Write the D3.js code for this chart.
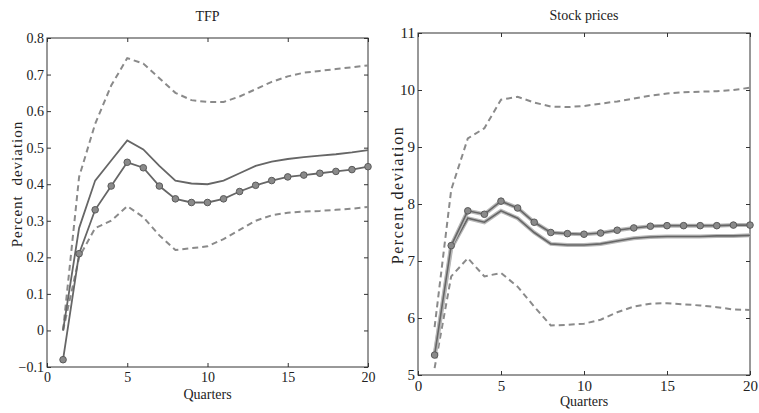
<!DOCTYPE html>
<html><head><meta charset="utf-8">
<script src="https://cdn.jsdelivr.net/npm/d3@7"></script>
<style>
body{margin:0;background:#fff;}
svg text{font-family:"Liberation Serif","DejaVu Serif",serif;fill:#222;}
</style></head>
<body><svg id="c" width="759" height="413"></svg>
<script>
const quarters = d3.range(1,21);
const xTicks = [0,5,10,15,20];

// TFP panel
const tfpTicks = [-0.1,0,0.1,0.2,0.3,0.4,0.5,0.6,0.7,0.8];
const tfpTickLabels = ["\u22120.1","0","0.1","0.2","0.3","0.4","0.5","0.6","0.7","0.8"];
const tfpMarked = [-0.08,0.21,0.33,0.395,0.46,0.445,0.395,0.36,0.35,0.35,0.36,0.38,0.397,0.41,0.42,0.425,0.43,0.435,0.44,0.448];
const tfpSolid  = [0.0,0.28,0.41,0.465,0.52,0.495,0.45,0.41,0.402,0.40,0.41,0.43,0.45,0.462,0.469,0.474,0.478,0.482,0.487,0.493];
const tfpUpper  = [0.0,0.42,0.565,0.67,0.745,0.73,0.69,0.65,0.63,0.625,0.625,0.64,0.66,0.68,0.695,0.705,0.71,0.715,0.72,0.725];
const tfpLower  = [0.0,0.2,0.28,0.30,0.34,0.31,0.26,0.22,0.225,0.23,0.25,0.275,0.30,0.315,0.322,0.325,0.327,0.33,0.333,0.338];

// Stock prices panel
const spTicks = [5,6,7,8,9,10,11];
const spTickLabels = ["5","6","7","8","9","10","11"];
const spMarked = [5.35,7.27,7.88,7.82,8.05,7.93,7.68,7.50,7.48,7.47,7.49,7.54,7.58,7.61,7.62,7.62,7.62,7.62,7.63,7.63];
const spSolid  = [5.32,7.22,7.75,7.68,7.88,7.75,7.50,7.30,7.28,7.28,7.30,7.35,7.40,7.42,7.43,7.43,7.43,7.44,7.44,7.45];
const spUpper  = [5.84,8.25,9.15,9.33,9.83,9.88,9.78,9.71,9.70,9.72,9.76,9.80,9.85,9.90,9.94,9.96,9.97,9.98,10.00,10.04];
const spLower  = [5.12,6.73,7.05,6.73,6.79,6.55,6.20,5.87,5.88,5.90,5.97,6.10,6.20,6.25,6.26,6.24,6.22,6.19,6.15,6.14];

const svg = d3.select("#c");

function panel(o){
  const g = svg.append("g");
  const x = d3.scaleLinear().domain([0,20]).range([o.l,o.r]);
  const y = d3.scaleLinear().domain(o.dom).range([o.b,o.t]);
  const tl = 4;
  g.append("rect").attr("x",o.l).attr("y",o.t).attr("width",o.r-o.l).attr("height",o.b-o.t)
    .attr("fill","none").attr("stroke","#333").attr("stroke-width",1);
  const fmtY = d=>o.labels[o.ticks.indexOf(d)];
  g.append("g").attr("transform",`translate(0,${o.b})`)
    .call(d3.axisBottom(x).tickValues(xTicks).tickSize(-tl).tickPadding(o.xpad).tickFormat(d3.format("d")))
    .call(a=>{a.select(".domain").remove();a.selectAll("text").attr("font-size",o.fs).attr("font-family","Liberation Serif");a.selectAll("line").attr("stroke","#333");});
  g.append("g").attr("transform",`translate(0,${o.t})`)
    .call(d3.axisTop(x).tickValues(xTicks).tickSize(-tl).tickFormat(""))
    .call(a=>{a.select(".domain").remove();a.selectAll("line").attr("stroke","#333");});
  g.append("g").attr("transform",`translate(${o.l},0)`)
    .call(d3.axisLeft(y).tickValues(o.ticks).tickSize(-tl).tickPadding(3).tickFormat(fmtY))
    .call(a=>{a.select(".domain").remove();a.selectAll("text").attr("font-size",o.fs).attr("font-family","Liberation Serif");a.selectAll("line").attr("stroke","#333");});
  g.append("g").attr("transform",`translate(${o.r},0)`)
    .call(d3.axisRight(y).tickValues(o.ticks).tickSize(-tl).tickFormat(""))
    .call(a=>{a.select(".domain").remove();a.selectAll("line").attr("stroke","#333");});

  const line = d3.line().x((d,i)=>x(quarters[i])).y(d=>y(d));
  const clip = "clip"+o.id;
  g.append("clipPath").attr("id",clip).append("rect").attr("x",o.l).attr("y",o.t).attr("width",o.r-o.l+1).attr("height",o.b-o.t);
  const pg = g.append("g").attr("clip-path",`url(#${clip})`);
  [o.upper,o.lower].forEach(s=>pg.append("path").attr("d",line(s)).attr("fill","none")
    .attr("stroke","#8a8a8a").attr("stroke-width",2).attr("stroke-dasharray","6,4"));
  [o.solid,o.marked].forEach(s=>{
    if(o.halo) pg.append("path").attr("d",line(s)).attr("fill","none").attr("stroke","#b8b8b8").attr("stroke-width",4);
    pg.append("path").attr("d",line(s)).attr("fill","none").attr("stroke","#666").attr("stroke-width",o.sw);
  });
  g.selectAll(null).data(o.marked).enter().append("circle")
    .attr("cx",(d,i)=>x(quarters[i])).attr("cy",d=>y(d)).attr("r",3.3)
    .attr("fill","#8a8a8a").attr("stroke","#5a5a5a").attr("stroke-width",1);

  g.append("text").attr("x",(o.l+o.r)/2).attr("y",o.titleY).attr("text-anchor","middle").attr("font-size",14).text(o.title);
  g.append("text").attr("x",(o.l+o.r)/2).attr("y",o.qY).attr("text-anchor","middle").attr("font-size",14).text("Quarters");
  g.append("text").attr("transform",`translate(${o.yl},${o.ylY}) rotate(-90)`).attr("text-anchor","middle")
    .attr("font-size",o.yfs).attr("letter-spacing",o.ls).attr("word-spacing",o.ws).text("Percent deviation");
}

panel({id:1,l:47,r:368,t:38,b:367,dom:[-0.1,0.8],ticks:tfpTicks,labels:tfpTickLabels,fs:14,xpad:5,
  marked:tfpMarked,solid:tfpSolid,upper:tfpUpper,lower:tfpLower,title:"TFP",titleY:21,qY:399,
  yl:22,ylY:184,yfs:15,ls:1,ws:5,sw:1.8,halo:false});
panel({id:2,l:418,r:750,t:33,b:375,dom:[5,11],ticks:spTicks,labels:spTickLabels,fs:15,xpad:5,
  marked:spMarked,solid:spSolid,upper:spUpper,lower:spLower,title:"Stock prices",titleY:20,qY:406,
  yl:403,ylY:195,yfs:16,ls:1.6,ws:0,sw:1.6,halo:true});
</script></body></html>
